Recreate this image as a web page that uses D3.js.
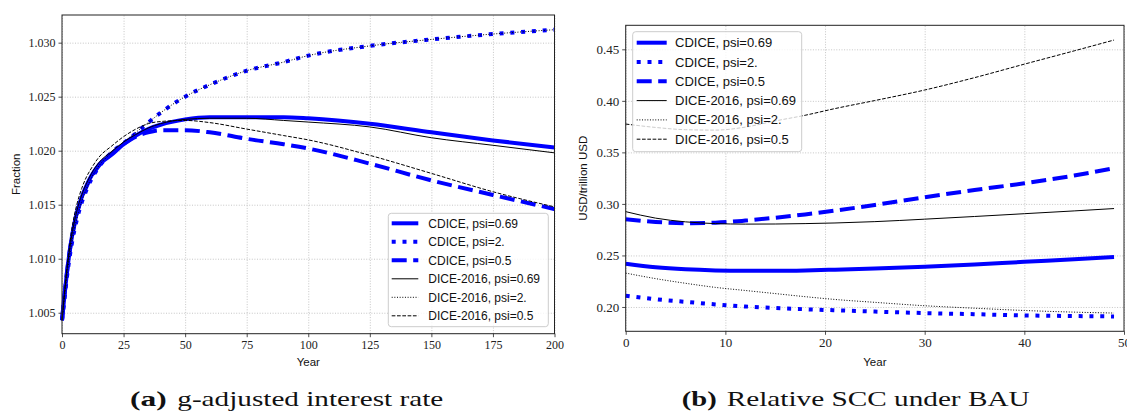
<!DOCTYPE html>
<html><head><meta charset="utf-8">
<script src="https://cdn.jsdelivr.net/npm/d3@7/dist/d3.min.js"></script>
<style>body{margin:0;background:#fff}svg{display:block}</style>
</head><body>
<svg id="c" width="1127" height="419"></svg>
<script>
// ---------- Panel (a): g-adjusted interest rate ----------
const yearsA = [0,1,2,3,4,5,6,8,10,12,15,20,25,30,35,40,50,60,75,90,100,125,150,175,200];
const aCdice069 = [1.0043,1.0066,1.0087,1.0105,1.0120,1.0132,1.0142,1.0157,1.0168,1.0177,1.0187,1.0196,1.0206,1.0214,1.0220,1.0224,1.0229,1.0231,1.0231,1.0231,1.0230,1.0225,1.0217,1.02095,1.0203];
const aCdice2   = [1.0043,1.0063,1.0083,1.0100,1.0114,1.0126,1.0136,1.0152,1.0164,1.0174,1.0185,1.0198,1.0207,1.0216,1.0226,1.0235,1.0250,1.0261,1.0274,1.0282,1.0288,1.0297,1.0303,1.0308,1.0312];
const aCdice05  = [1.0043,1.0066,1.0087,1.0105,1.0119,1.0131,1.0141,1.0156,1.0167,1.0176,1.0186,1.0197,1.0206,1.0213,1.0217,1.0219,1.0219,1.0217,1.0211,1.0206,1.0202,1.0188,1.01725,1.0159,1.0146];
const aDice069  = [1.0043,1.0067,1.0089,1.0107,1.0122,1.0134,1.0144,1.0159,1.0170,1.0179,1.0189,1.0199,1.0208,1.0215,1.0221,1.0225,1.0229,1.0230,1.0230,1.0228,1.02265,1.0222,1.0212,1.0205,1.0198];
const aDice2    = [1.0043,1.0064,1.0084,1.0101,1.0115,1.0127,1.0137,1.0153,1.0165,1.0175,1.0186,1.0198,1.0208,1.0217,1.0226,1.0235,1.0250,1.0261,1.0274,1.0282,1.0288,1.0297,1.0303,1.0308,1.0312];
const aDice05   = [1.0043,1.0069,1.0092,1.0111,1.0127,1.0140,1.0150,1.0165,1.0176,1.0184,1.0194,1.0204,1.0213,1.0220,1.0225,1.0227,1.0228,1.0226,1.0220,1.0214,1.0210,1.01957,1.0179,1.0162,1.0148];
const ticksAX = [0,25,50,75,100,125,150,175,200];
const ticksAY = [1.005,1.010,1.015,1.020,1.025,1.030];

// ---------- Panel (b): Relative SCC under BAU ----------
const yearsB = [0,3,6,9,12,15,18,21,25,30,35,40,45,49];
const bCdice069 = [0.2420,0.2385,0.2365,0.2355,0.2352,0.2352,0.2355,0.2362,0.2373,0.2390,0.2412,0.2438,0.2462,0.2484];
const bCdice2   = [0.2109,0.2075,0.2050,0.2025,0.2005,0.1990,0.1978,0.1968,0.1955,0.1941,0.1930,0.1918,0.1912,0.1908];
const bCdice05  = [0.2851,0.2825,0.2813,0.2818,0.2838,0.2866,0.2898,0.2935,0.2990,0.3065,0.3135,0.3200,0.3275,0.3347];
const bDice069  = [0.2925,0.2862,0.2826,0.2809,0.2804,0.2805,0.2809,0.2815,0.2828,0.2852,0.2878,0.2905,0.2932,0.2955];
const bDice2    = [0.2329,0.2275,0.2230,0.2190,0.2160,0.2130,0.2100,0.2073,0.2045,0.2012,0.1988,0.1966,0.1950,0.1941];
const bDice05   = [0.3775,0.3742,0.3720,0.3716,0.3745,0.3805,0.3860,0.3925,0.4003,0.4105,0.4225,0.4356,0.4485,0.4590];
const ticksBX = [0,10,20,30,40,50];
const ticksBY = [0.20,0.25,0.30,0.35,0.40,0.45];

const legendLabels = ["CDICE, psi=0.69","CDICE, psi=2.","CDICE, psi=0.5","DICE-2016, psi=0.69","DICE-2016, psi=2.","DICE-2016, psi=0.5"];
const captions = [["(a)","g-adjusted interest rate"],["(b)","Relative SCC under BAU"]];

const styles = [
  {color:"#0000ff", w:4, dash:null},
  {color:"#0000ff", w:4, dash:"4,6.8"},
  {color:"#0000ff", w:4, dash:"15,6.5"},
  {color:"#000000", w:1, dash:null},
  {color:"#000000", w:1, dash:"1,1.65"},
  {color:"#000000", w:1, dash:"3.7,1.6"}
];

const svg = d3.select("#c");
const SERIF = "'Liberation Serif','DejaVu Serif',serif";
const SANS = "'Liberation Sans',Arial,sans-serif";

function panel(p){
  const x = d3.scaleLinear().domain(p.xd).range([p.x0,p.x1]);
  const y = d3.scaleLinear().domain(p.yd).range([p.y1,p.y0]);
  const g = svg.append("g");
  // grid
  const gx = g.append("g").attr("transform",`translate(0,${p.y1})`)
    .call(d3.axisBottom(x).tickValues(p.xt).tickSize(-(p.y1-p.y0)).tickFormat(""));
  const gy = g.append("g").attr("transform",`translate(${p.x0},0)`)
    .call(d3.axisLeft(y).tickValues(p.yt).tickSize(-(p.x1-p.x0)).tickFormat(""));
  [gx,gy].forEach(a=>{a.select(".domain").remove();
    a.selectAll("line").attr("stroke","#b8b8b8").attr("stroke-width",0.8).attr("stroke-dasharray","1,1.6");});
  // lines
  const line = d3.line().x((d,i)=>x(p.years[i])).y(d=>y(d)).curve(d3.curveMonotoneX);
  p.series.forEach((s,i)=>{
    const st = styles[i];
    g.append("path").attr("d",line(s)).attr("fill","none")
      .attr("stroke",st.color).attr("stroke-width",st.w)
      .attr("stroke-dasharray",st.dash).attr("stroke-linecap","butt").attr("stroke-linejoin","round");
  });
  // frame
  g.append("rect").attr("x",p.x0).attr("y",p.y0).attr("width",p.x1-p.x0).attr("height",p.y1-p.y0)
    .attr("fill","none").attr("stroke","#222").attr("stroke-width",1);
  // axes
  const ax = g.append("g").attr("transform",`translate(0,${p.y1})`)
    .call(d3.axisBottom(x).tickValues(p.xt).tickSize(3.5).tickPadding(3).tickFormat(p.xfmt));
  const ay = g.append("g").attr("transform",`translate(${p.x0},0)`)
    .call(d3.axisLeft(y).tickValues(p.yt).tickSize(3.5).tickPadding(3).tickFormat(p.yfmt));
  [ax,ay].forEach(a=>{a.select(".domain").remove();
    a.selectAll("line").attr("stroke","#222").attr("stroke-width",0.8);
    a.selectAll("text").attr("font-family",SERIF).attr("font-size",p.tickFont).attr("fill","#222");});
  // labels
  g.append("text").attr("x",(p.x0+p.x1)/2).attr("y",p.xlabY).attr("text-anchor","middle")
    .attr("font-family",SANS).attr("font-size",11.5).attr("fill","#111").text(p.xlabel);
  g.append("text").attr("transform",`translate(${p.ylabX},${(p.y0+p.y1)/2}) rotate(-90)`)
    .attr("text-anchor","middle").attr("font-family",SANS).attr("font-size",11.5).attr("fill","#111").text(p.ylabel);
  // legend
  const L = p.legend;
  const lg = g.append("g");
  lg.append("rect").attr("x",L.x).attr("y",L.y).attr("width",L.w).attr("height",L.h).attr("rx",3)
    .attr("fill","#fff").attr("fill-opacity",0.8).attr("stroke","#cccccc").attr("stroke-width",1);
  legendLabels.forEach((lab,i)=>{
    const st = styles[i];
    const cy = L.row0 + i*L.dy;
    lg.append("line").attr("x1",L.lx0).attr("x2",L.lx1).attr("y1",cy).attr("y2",cy)
      .attr("stroke",st.color).attr("stroke-width",st.w).attr("stroke-dasharray",st.dash);
    lg.append("text").attr("x",L.tx).attr("y",cy).attr("dy","0.35em")
      .attr("font-family",SANS).attr("font-size",L.font).attr("fill","#111").text(lab);
  });
}

panel({x0:62,x1:554.5,y0:15,y1:333.7,xd:[0,200],yd:[1.00306,1.03256],xt:ticksAX,yt:ticksAY,
  xfmt:d3.format("d"),yfmt:d3.format(".3f"),tickFont:12,years:yearsA,
  series:[aCdice069,aCdice2,aCdice05,aDice069,aDice2,aDice05],
  xlabel:"Year",ylabel:"Fraction",xlabY:365.5,ylabX:20,
  legend:{x:388.3,y:213.3,w:160,h:113.4,row0:223.3,dy:18.5,lx0:391.7,lx1:418.3,tx:428.3,font:12}});

panel({x0:625.7,x1:1124,y0:25.3,y1:331.3,xd:[0,50],yd:[0.1764,0.4733],xt:ticksBX,yt:ticksBY,
  xfmt:d3.format("d"),yfmt:d3.format(".2f"),tickFont:13,years:yearsB,
  series:[bCdice069,bCdice2,bCdice05,bDice069,bDice2,bDice05],
  xlabel:"Year",ylabel:"USD/trillion USD",xlabY:365.5,ylabX:587,
  legend:{x:632.7,y:31.7,w:169,h:120,row0:42.7,dy:19.3,lx0:636.7,lx1:666.7,tx:675,font:13}});

// captions
const capPos = [{bx:130,bw:36.7,tx:177.3,tw:266},{bx:681.7,bw:35,tx:726.7,tw:303}];
captions.forEach((c,i)=>{
  const p = capPos[i];
  svg.append("text").attr("x",p.bx).attr("y",406).attr("font-family",SERIF).attr("font-weight","bold")
    .attr("font-size",21).attr("textLength",p.bw).attr("lengthAdjust","spacingAndGlyphs").attr("fill","#111").text(c[0]);
  svg.append("text").attr("x",p.tx).attr("y",406).attr("font-family",SERIF)
    .attr("font-size",21).attr("textLength",p.tw).attr("lengthAdjust","spacingAndGlyphs").attr("fill","#111").text(c[1]);
});
</script>
</body></html>
